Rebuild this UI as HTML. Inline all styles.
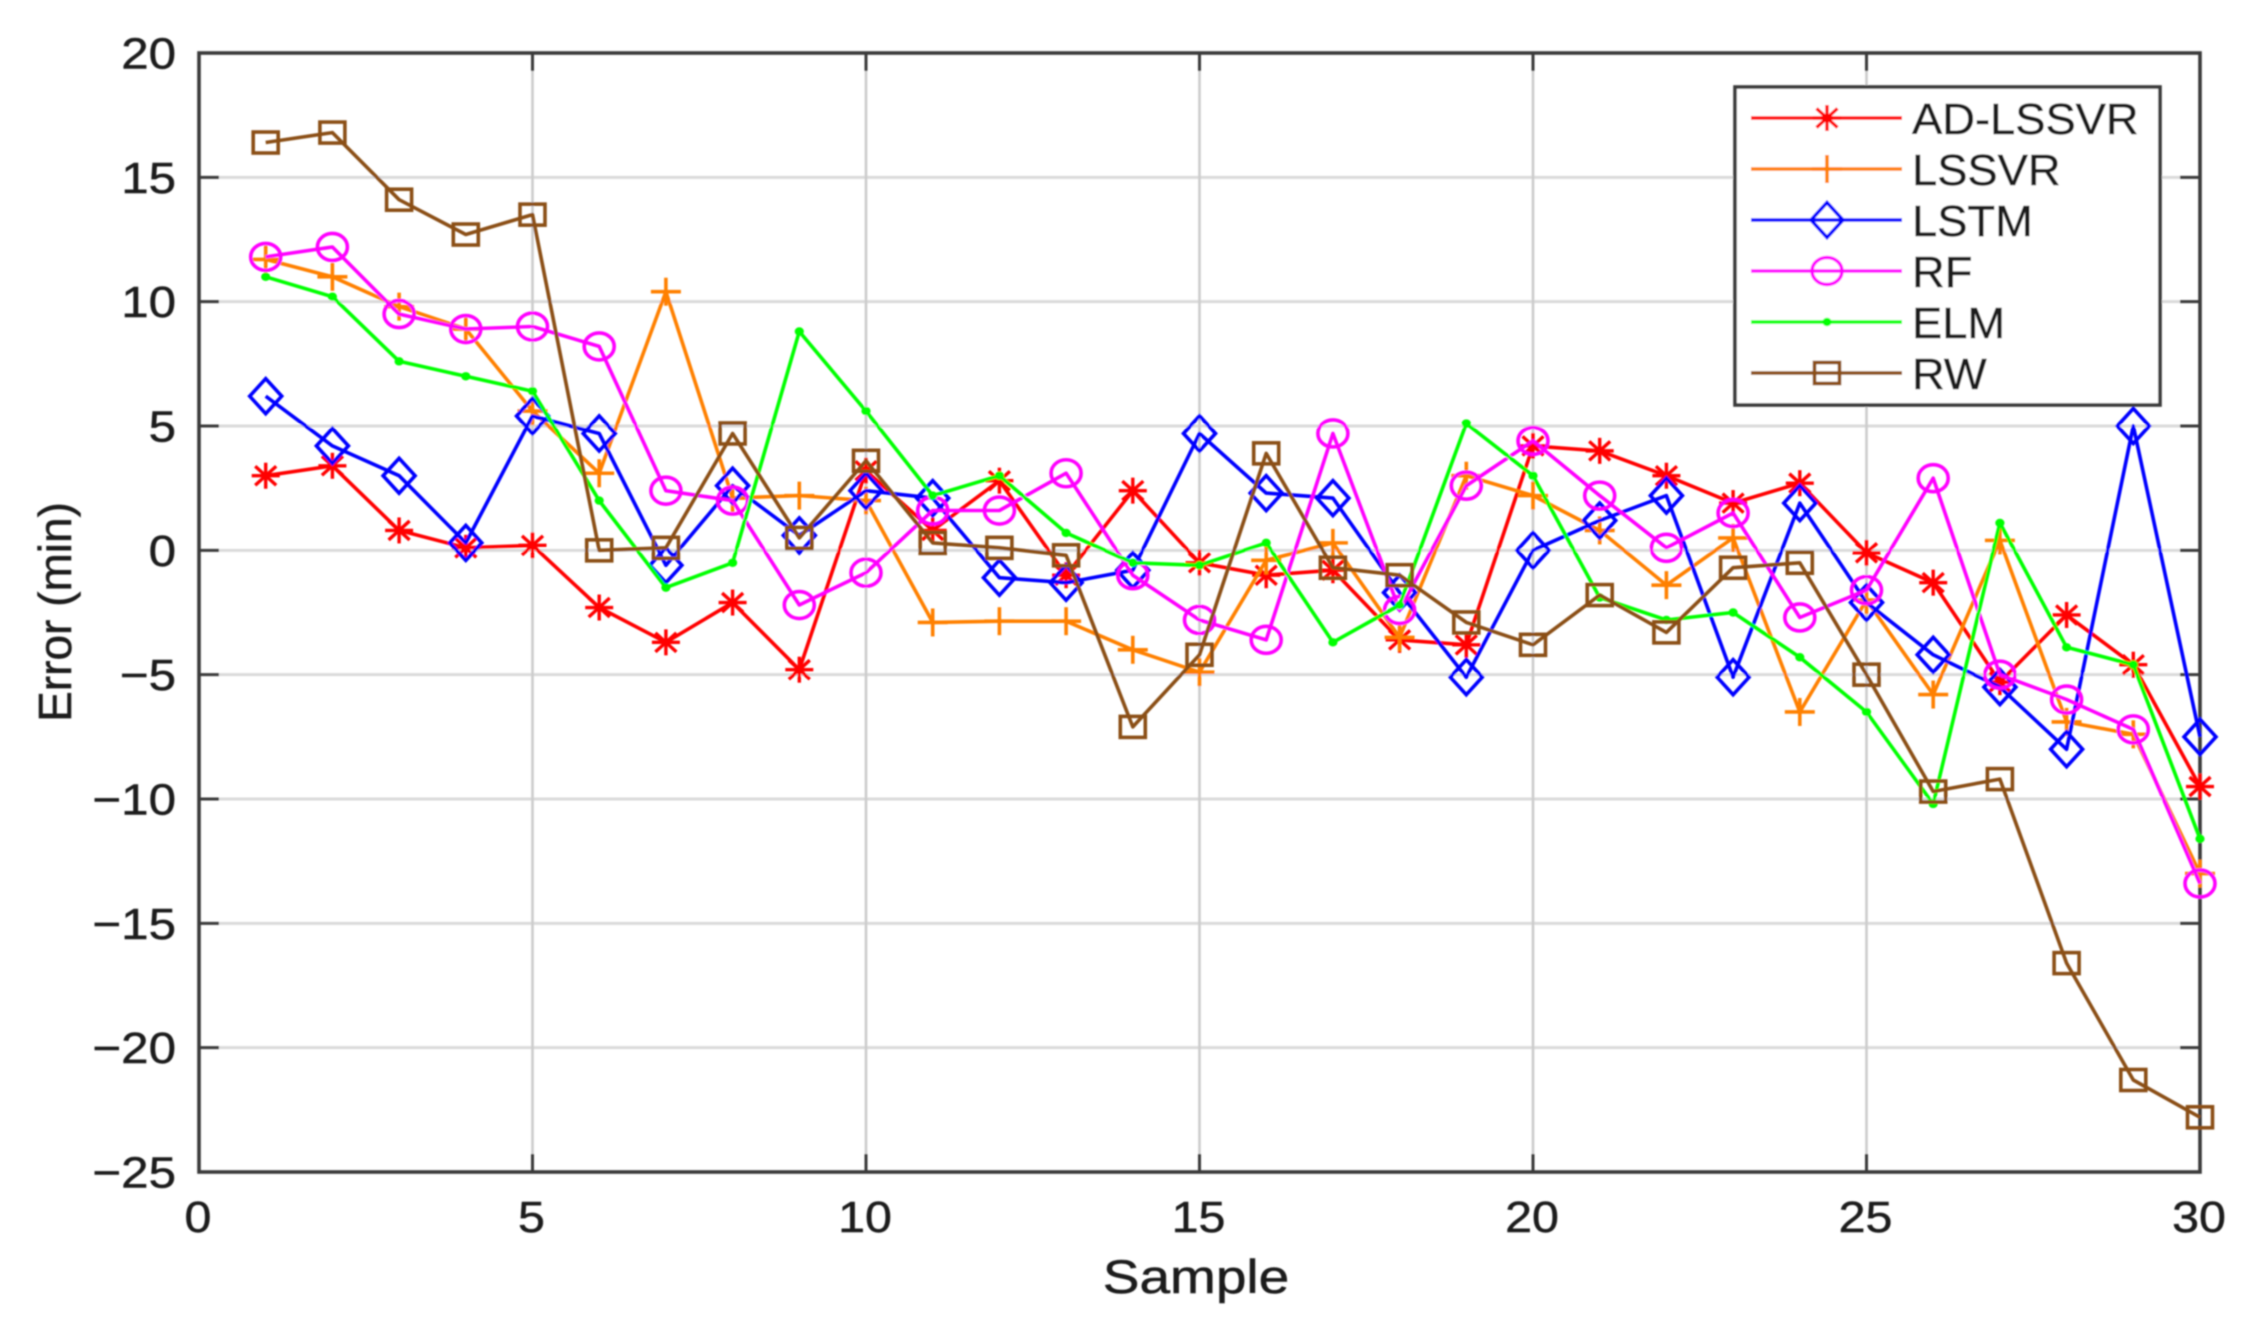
<!DOCTYPE html>
<html lang="en">
<head>
<meta charset="utf-8">
<title>Error by sample</title>
<style>
html,body{margin:0;padding:0;background:#fff;width:2259px;height:1331px;overflow:hidden}
svg{display:block}
text{font-family:"Liberation Sans",sans-serif;fill:#1c1c1c;stroke:#1c1c1c;stroke-width:0.5}
</style>
</head>
<body>
<svg id="chart" xmlns="http://www.w3.org/2000/svg" width="2259" height="1331" viewBox="0 0 2259 1331">
<defs><filter id="soft" filterUnits="userSpaceOnUse" x="0" y="0" width="2259" height="1331"><feGaussianBlur stdDeviation="0.9"/></filter></defs>
<rect width="2259" height="1331" fill="#fff"/>
<g id="root" filter="url(#soft)"></g>
</svg>
<script>
const samples = [1,2,3,4,5,6,7,8,9,10,11,12,13,14,15,16,17,18,19,20,21,22,23,24,25,26,27,28,29,30];
const adLssvr = [3.0,3.4,0.8,0.1,0.2,-2.3,-3.7,-2.1,-4.8,3.2,0.8,2.8,-1.0,2.4,-0.5,-1.0,-0.8,-3.6,-3.8,4.2,4.0,3.0,1.9,2.7,-0.1,-1.3,-5.3,-2.6,-4.6,-9.5];
const lssvr = [11.7,11.0,9.8,8.9,5.6,3.1,10.4,2.1,2.2,2.0,-2.9,-2.85,-2.85,-4.0,-4.9,-0.4,0.3,-3.5,3.0,2.2,0.8,-1.4,0.5,-6.5,-2.0,-5.8,0.4,-6.9,-7.4,-13.0];
const lstm = [6.2,4.2,3.0,0.3,5.4,4.7,-0.6,2.6,0.6,2.4,2.1,-1.1,-1.3,-0.8,4.7,2.3,2.1,-1.7,-5.1,0.0,1.2,2.2,-5.1,1.9,-2.1,-4.2,-5.5,-8.0,5.0,-7.5];
const rf = [11.8,12.2,9.5,8.9,9.0,8.2,2.4,2.0,-2.2,-0.9,1.6,1.6,3.1,-1.0,-2.8,-3.6,4.7,-2.4,2.6,4.4,2.2,0.1,1.5,-2.7,-1.6,2.9,-5.0,-6.0,-7.2,-13.4];
const elm = [11.0,10.2,7.6,7.0,6.4,2.0,-1.5,-0.5,8.8,5.6,2.2,3.0,0.7,-0.5,-0.6,0.3,-3.7,-2.2,5.1,3.0,-1.9,-2.8,-2.5,-4.3,-6.5,-10.2,1.1,-3.9,-4.6,-11.6];
const rw = [16.4,16.8,14.1,12.7,13.5,0.0,0.1,4.7,0.5,3.6,0.3,0.1,-0.2,-7.1,-4.2,3.9,-0.7,-1.0,-2.9,-3.8,-1.8,-3.3,-0.7,-0.5,-5.0,-9.7,-9.2,-16.6,-21.3,-22.8];
const xTicks = [0,5,10,15,20,25,30];
const yTicks = [20,15,10,5,0,-5,-10,-15,-20,-25];

const NS = 'http://www.w3.org/2000/svg';
const root = document.getElementById('root');
const L = 199, R = 2200, T = 53, B = 1172;
const xMin = 0, xMax = 30, yMin = -25, yMax = 20;
function xScale(v){ return L + (v - xMin) / (xMax - xMin) * (R - L); }
function yScale(v){ return B - (v - yMin) / (yMax - yMin) * (B - T); }

function make(tag, attrs, parent){
  const node = document.createElementNS(NS, tag);
  for (const k in attrs) node.setAttribute(k, attrs[k]);
  (parent || root).appendChild(node);
  return node;
}
function addLine(x1, y1, x2, y2, color, w, parent){
  return make('line', {x1:x1, y1:y1, x2:x2, y2:y2, stroke:color, 'stroke-width':w}, parent);
}
function addText(str, x, y, size, sx, anchor, parent){
  const t = make('text', {transform:'translate(' + x + ' ' + y + ') scale(' + sx + ' 1)', 'font-size':size, 'text-anchor':anchor}, parent);
  t.textContent = str;
  return t;
}
function fmt(v){ return v < 0 ? '\u2212' + Math.abs(v) : String(v); }

/* grid */
const gridGroup = make('g', {});


yTicks.forEach(function(v){
  if (v === yMax || v === yMin) return;
  const g = addLine(L, yScale(v), R, yScale(v), '#dadada', 3, gridGroup);
  
  
});
xTicks.forEach(function(v){
  if (v === xMin || v === xMax) return;
  const g = addLine(xScale(v), T, xScale(v), B, '#cccccc', 2.6, gridGroup);
  
  
});

/* series */
function drawMarker(kind, cx, cy, color, parent){
  const g = make('g', {fill:'none', stroke:color, 'stroke-width':3.6}, parent);
  if (kind === 'star') {
    const a = 14, b = 13, c = 10.5, d = 9.5;
    addLine(cx, cy - b, cx, cy + b, color, 3.4, g);
    addLine(cx - a, cy, cx + a, cy, color, 3.4, g);
    addLine(cx - c, cy - d, cx + c, cy + d, color, 3.4, g);
    addLine(cx - c, cy + d, cx + c, cy - d, color, 3.4, g);
  } else if (kind === 'plus') {
    addLine(cx, cy - 14, cx, cy + 14, color, 3.6, g);
    addLine(cx - 15, cy, cx + 15, cy, color, 3.6, g);
  } else if (kind === 'diamond') {
    make('polygon', {points:(cx-16)+','+cy+' '+cx+','+(cy-17.5)+' '+(cx+16)+','+cy+' '+cx+','+(cy+17.5)}, g);
  } else if (kind === 'circle') {
    make('ellipse', {cx:cx, cy:cy, rx:15, ry:13.5}, g);
  } else if (kind === 'dot') {
    make('ellipse', {cx:cx, cy:cy, rx:4.6, ry:4.2, fill:color, stroke:'none'}, g);
  } else if (kind === 'square') {
    make('rect', {x:cx-12.5, y:cy-10.5, width:25, height:21}, g);
  }
  return g;
}
function drawSeries(values, color, kind, name){
  const g = make('g', {});
  
  
  const pts = values.map(function(v, i){ return xScale(samples[i]).toFixed(1) + ',' + yScale(v).toFixed(1); }).join(' ');
  const line = make('polyline', {points:pts, fill:'none', stroke:color, 'stroke-width':3.6, 'stroke-linejoin':'round'}, g);
  
  
  values.forEach(function(v, i){
    const m = drawMarker(kind, xScale(samples[i]), yScale(v), color, g);
    
    
  });
}

/* axes frame */
const axesGroup = make('g', {});


make('rect', {x:L, y:T, width:R-L, height:B-T, fill:'none', stroke:'#3a3a3a', 'stroke-width':3.6}, axesGroup);
xTicks.forEach(function(v){
  const x = xScale(v);
  const a = addLine(x, B, x, B - 18, '#3a3a3a', 3, axesGroup);
  
  
  const b = addLine(x, T, x, T + 18, '#3a3a3a', 3, axesGroup);
  
  
  const t = addText(fmt(v), x - 1, 1232, 44, 1.1, 'middle');
  
  
});
yTicks.forEach(function(v){
  const y = yScale(v);
  const a = addLine(L, y, L + 20, y, '#3a3a3a', 3, axesGroup);
  
  
  const b = addLine(R, y, R - 20, y, '#3a3a3a', 3, axesGroup);
  
  
  const t = addText(fmt(v), 176, y + 15.5, 44, 1.12, 'end');
  
  
});

drawSeries(adLssvr, '#ff0000', 'star', 'ad-lssvr');
drawSeries(lssvr, '#ff8000', 'plus', 'lssvr');
drawSeries(lstm, '#0000ff', 'diamond', 'lstm');
drawSeries(rf, '#ff00ff', 'circle', 'rf');
drawSeries(elm, '#00ff00', 'dot', 'elm');
drawSeries(rw, '#8b4f14', 'square', 'rw');

/* axis titles */
const xTitle = addText('Sample', 1196, 1293, 47, 1.17, 'middle');


const yTitle = make('text', {transform:'translate(71 612) rotate(-90)', 'font-size':46, 'text-anchor':'middle'});
yTitle.textContent = 'Error (min)';



/* legend */
const legendNames = ['AD-LSSVR','LSSVR','LSTM','RF','ELM','RW'];
const legendColors = ['#ff0000','#ff8000','#0000ff','#ff00ff','#00ff00','#8b4f14'];
const legendKinds = ['star','plus','diamond','circle','dot','square'];
const legend = make('g', {});


make('rect', {x:1735, y:87, width:425, height:318, fill:'#fff', stroke:'#3a3a3a', 'stroke-width':3.6}, legend);
legendNames.forEach(function(n, i){
  const y = 118 + i * 51;
  const entry = make('g', {}, legend);
  
  
  addLine(1751, y, 1902, y, legendColors[i], 3.6, entry);
  drawMarker(legendKinds[i], 1827, y, legendColors[i], entry);
  const t = addText(n, 1912, y + 16, 44, 1.03, 'start', entry);
  
  
});
</script>
</body>
</html>
